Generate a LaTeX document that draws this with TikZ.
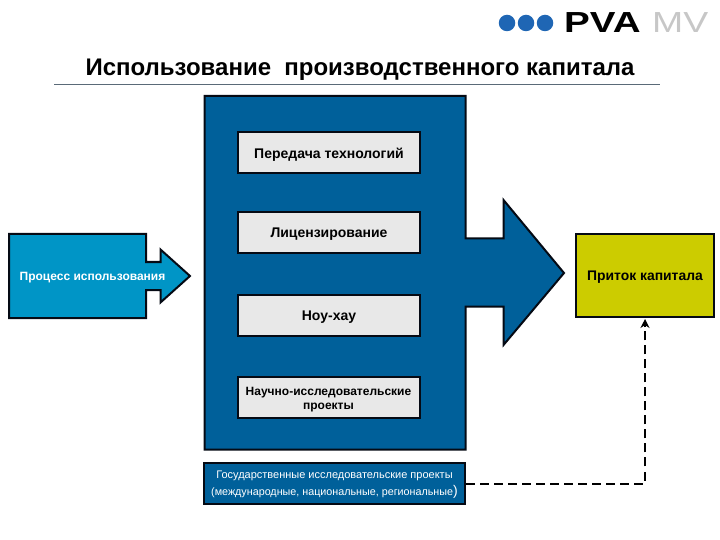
\documentclass[tikz,border=0pt]{standalone}
\usepackage{fontspec}
\setmainfont{Liberation Sans}
\usetikzlibrary{arrows.meta}
\definecolor{deepblue}{HTML}{00609A}
\definecolor{lightblue}{HTML}{0095C6}
\definecolor{olive}{HTML}{CCCC00}
\definecolor{panel}{HTML}{E8E8E8}
\definecolor{edge}{HTML}{050A14}
\definecolor{dotblue}{HTML}{1F66B4}
\definecolor{rulecol}{HTML}{5A6A78}
\newcommand{\lowertext}[2]{\raisebox{-#1}[\height][\depth]{#2}}
\tikzset{
  outline/.style={draw=edge,line width=2bp,line join=miter},
  inner box/.style={outline,fill=panel,minimum width=182bp,minimum height=41bp,inner sep=0pt,align=center,font=\fontsize{14bp}{16bp}\selectfont\bfseries,text=black},
  logodot/.style={circle,fill=dotblue,minimum size=16.5bp,inner sep=0pt},
  link/.style={draw=black,line width=2bp,dash pattern=on 9bp off 5bp},
}
\begin{document}
\begin{tikzpicture}[x=1bp,y=-1bp]
\useasboundingbox (0,0) rectangle (720,540);
% logo
\node[logodot] (d1) at (507,23) {};
\node[logodot] (d2) at (526,23) {};
\node[logodot] (d3) at (545,23) {};
\node[inner sep=0pt,anchor=west,text=black] (pva) at (564,22.5) {\scalebox{1.33}[1]{\fontsize{29bp}{29bp}\selectfont\bfseries PVA}};
\node[inner sep=0pt,anchor=west,text=black!22] (mv) at (652,22.5) {\scalebox{1.29}[1]{\fontsize{29bp}{29bp}\selectfont MV}};
% title
\node[inner sep=0pt,font=\fontsize{24bp}{26bp}\selectfont\bfseries] (title) at (360,70) {Использование\ \ производственного капитала};
\coordinate (ruleL) at (54,84);
\coordinate (ruleR) at (660,84);
\draw[line width=0.8bp,draw=rulecol] (ruleL) -- (ruleR);
% big arrow
\draw[outline,fill=deepblue] (204.5,96) -- (465.5,96) -- (465.5,238.5) -- (503.5,238.5) -- (503.5,200) -- (564,273) -- (503.5,345) -- (503.5,306.5) -- (465.5,306.5) -- (465.5,449.5) -- (204.5,449.5) -- cycle;
% left arrow
\draw[outline,fill=lightblue] (9,234) -- (146,234) -- (146,262) -- (160.5,262) -- (160.5,249.5) -- (190,276) -- (160.5,302.5) -- (160.5,290) -- (146,290) -- (146,318) -- (9,318) -- cycle;
\node[inner sep=0pt,text=white,font=\fontsize{12bp}{14bp}\selectfont\bfseries] (proc) at (92.5,278) {Процесс использования};
% inner boxes
\node[inner box] (b1) at (329,153) {\lowertext{2bp}{Передача технологий}};
\node[inner box] (b2) at (329,232.5) {\lowertext{2bp}{Лицензирование}};
\node[inner box] (b3) at (329,315.5) {\lowertext{2bp}{Ноу-хау}};
\node[inner box,font=\fontsize{12bp}{15bp}\selectfont\bfseries] (b4) at (328.5,397.5) {\lowertext{2bp}{\begin{tabular}{@{}c@{}}Научно-исследовательские\\[-0.5bp]проекты\end{tabular}}};
% inflow
\node[outline,fill=olive,minimum width=138bp,minimum height=83bp,inner sep=0pt,font=\fontsize{13.9bp}{16bp}\selectfont\bfseries,text=black] (inflow) at (645,275.5) {\lowertext{2bp}{Приток капитала}};
% government box
\node[outline,fill=deepblue,minimum width=261bp,minimum height=41bp,inner sep=0pt,text=white,align=center,font=\fontsize{11bp}{17bp}\selectfont] (gov) at (334.5,483.5) {\begin{tabular}{@{}c@{}}Государственные исследовательские проекты\\\fontsize{10.75bp}{17bp}\selectfont(международные, национальные, региональные{\fontsize{14bp}{17bp}\selectfont)}\end{tabular}};
% connector
\draw[link] (gov.east) -| ([yshift=-8bp]inflow.south);
\draw[-{Stealth[length=9bp,width=9bp]},line width=2bp,draw=black] ([yshift=-9bp]inflow.south) -- ([yshift=-1bp]inflow.south);
\end{tikzpicture}
\end{document}
